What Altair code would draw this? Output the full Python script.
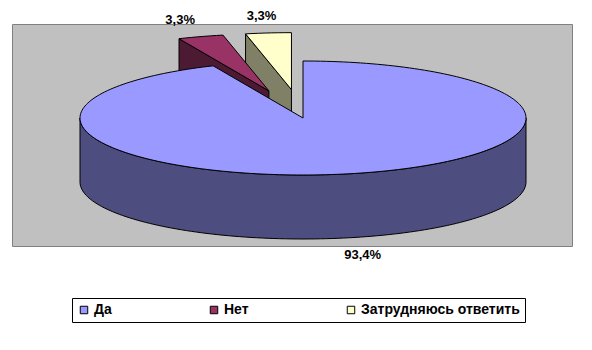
import math
import altair as alt

# ---- data ----
categories = ["Да", "Нет", "Затрудняюсь ответить"]
values = [93.4, 3.3, 3.3]
label_texts = ["93,4%", "3,3%", "3,3%"]
top_colors = ["#9999FF", "#993366", "#FFFFCC"]
side_colors = ["#4D4D80", "#4D1A33", "#808066"]
exploded = [False, True, True]

# ---- layout (pixels inside the plot area) ----
W, H = 560, 222
CX, CY = 291, 94          # centre of the pie top
A, B = 223, 57            # ellipse semi-axes
DEPTH = 64
EXPLODE = 0.5
LABEL_K = 1.3


def ept(cx, cy, deg):
    t = math.radians(deg)
    return [cx + A * math.sin(t), cy - B * math.cos(t)]


def arc(cx, cy, d0, d1, dy=0.0):
    n = max(4, int(abs(d1 - d0) / 1.5))
    pts = []
    for i in range(n + 1):
        d = d0 + (d1 - d0) * i / n
        x, y = ept(cx, cy, d)
        pts.append([x, y + dy])
    return pts


def feat(key, ring):
    ring = ring + [ring[0]]
    return {"type": "Feature",
            "geometry": {"type": "Polygon", "coordinates": [ring]},
            "properties": {"key": key}}


total = sum(values)
spans = []
acc = 0.0
for v in values:
    d0 = acc / total * 360
    acc += v
    spans.append((d0, acc / total * 360))

back, front = [], []
labels = []
for cat, (d0, d1), ex, lab in zip(categories, spans, exploded, label_texts):
    mid = (d0 + d1) / 2
    if ex:
        ox = EXPLODE * A * math.sin(math.radians(mid))
        oy = -EXPLODE * B * math.cos(math.radians(mid))
        tx, ty = CX + ox, CY + oy
        p = ept(tx, ty, d0)
        side = [[tx, ty], p, [p[0], p[1] + DEPTH], [tx, ty + DEPTH]]
        top = [[tx, ty]] + arc(tx, ty, d0, d1)
        back.append([feat(cat + "_side", side), feat(cat, top)])
        lx = tx + LABEL_K * A * math.sin(math.radians(mid))
        ly = ty - LABEL_K * B * math.cos(math.radians(mid))
    else:
        wall = arc(CX, CY, 90, 270) + arc(CX, CY, 270, 90, DEPTH)
        top = [[CX, CY]] + arc(CX, CY, d0, d1)
        front = [feat(cat + "_side", wall), feat(cat, top)]
        lx = CX + LABEL_K * A * math.sin(math.radians(mid))
        ly = CY + DEPTH - LABEL_K * B * math.cos(math.radians(mid))
    labels.append({"px": lx, "py": ly, "text": lab})

# painter's order: farthest exploded slice first, main pie last
features = []
for pair in reversed(back):
    features += pair
features += front

domain = categories + [c + "_side" for c in categories]
rng = top_colors + side_colors

proj = dict(type="identity", scale=1, translate=[0, 0])

shapes = alt.Chart(alt.Data(values=features)).mark_geoshape(
    stroke="black", strokeWidth=1, strokeJoin="miter"
).encode(
    fill=alt.Fill(
        "properties.key:N",
        scale=alt.Scale(domain=domain, range=rng),
        legend=alt.Legend(
            title=None, values=categories, orient="none",
            legendX=60, legendY=274, direction="horizontal", columns=3,
            columnPadding=95, padding=5, strokeColor="black",
            fillColor="white", symbolType="square", symbolSize=56,
            symbolStrokeColor="black", symbolStrokeWidth=1,
            symbolOpacity=1, labelFont="Liberation Sans", labelFontSize=14,
            labelFontWeight="bold", labelColor="black", labelOffset=3,
        ),
    )
).project(**proj)

texts = alt.Chart(alt.Data(values=labels)).mark_text(
    font="Liberation Sans", fontSize=13, fontWeight="bold", color="black"
).encode(
    x=alt.X("px:Q", scale=alt.Scale(domain=[0, W], nice=False, zero=False), axis=None),
    y=alt.Y("py:Q", scale=alt.Scale(domain=[0, H], nice=False, zero=False, reverse=True), axis=None),
    text="text:N",
)

chart = alt.layer(shapes, texts).properties(
    width=W, height=H,
    autosize=alt.AutoSizeParams(type="none"),
    padding={"left": 12, "top": 24, "right": 20, "bottom": 104},
    background="white",
).configure_view(
    fill="#C0C0C0", stroke="#808080", strokeWidth=1
)

chart.save("out.html", embed_options={"renderer": "svg", "actions": False})
